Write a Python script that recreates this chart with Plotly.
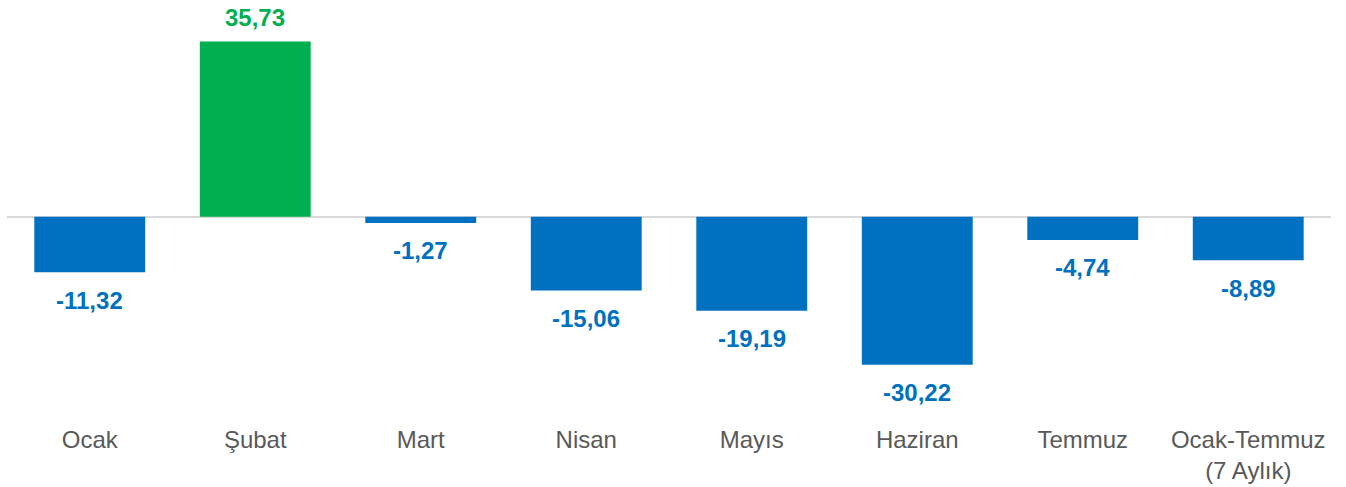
import plotly.graph_objects as go

# Monthly change (%) values
months = ["Ocak", "Şubat", "Mart", "Nisan", "Mayıs", "Haziran", "Temmuz",
          "Ocak-Temmuz<br>(7 Aylık)"]
values = [-11.32, 35.73, -1.27, -15.06, -19.19, -30.22, -4.74, -8.89]

BLUE = "#0070C0"
GREEN = "#00B050"
FONT = "Liberation Sans, Arial, sans-serif"

colors = [GREEN if v >= 0 else BLUE for v in values]

fig = go.Figure()

fig.add_trace(go.Bar(
    x=months,
    y=values,
    marker_color=colors,
    marker_line_width=0,
    hoverinfo="skip",
))

# Value labels (Turkish decimal comma)
for m, v, c in zip(months, values, colors):
    fig.add_annotation(
        x=m, y=v,
        text=f"<b>{v:.2f}</b>".replace(".", ","),
        showarrow=False,
        yshift=24 if v >= 0 else -28,
        font=dict(family=FONT, size=24, color=c),
    )

fig.update_layout(
    width=1346,
    height=487,
    margin=dict(l=7, r=15, t=10, b=72),
    paper_bgcolor="white",
    plot_bgcolor="white",
    bargap=0.33,
    showlegend=False,
    font=dict(family=FONT, size=24, color="#595959"),
)

fig.update_xaxes(
    showgrid=False,
    showline=False,
    ticks="",
    tickfont=dict(family=FONT, size=24, color="#595959"),
    ticklabelstandoff=8,
    automargin=False,
)

fig.update_yaxes(
    range=[-40.47, 42.18],
    showgrid=False,
    showticklabels=False,
    zeroline=True,
    zerolinecolor="#D9D9D9",
    zerolinewidth=2,
    automargin=False,
)

# drop the default 8px body margin so the figure fills the window
fig.write_html(
    "out.html",
    config={"displayModeBar": False},
    post_script="document.body.style.margin='0';",
)
